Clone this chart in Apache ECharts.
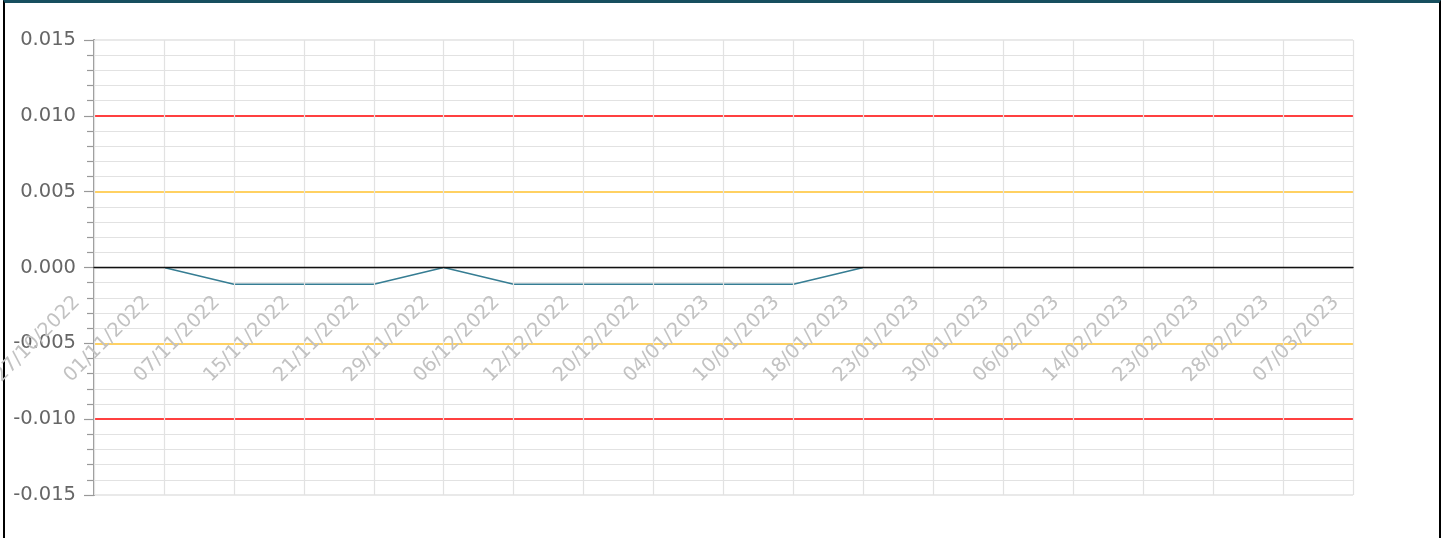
<!DOCTYPE html>
<html>
<head>
<meta charset="utf-8">
<script src="https://cdn.jsdelivr.net/npm/echarts@6/dist/echarts.min.js"></script>
<style>
html,body{margin:0;padding:0;background:#fff;overflow:hidden;}
#frame{position:absolute;left:3px;top:0;width:1434px;height:600px;border-left:2px solid #000;border-right:2px solid #000;border-top:3px solid #174f5f;box-sizing:content-box;}
#chart{position:absolute;left:0;top:0;width:1448px;height:538px;}
</style>
</head>
<body>
<div id="frame"></div>
<div id="chart"></div>
<script>
const categories = ['27/10/2022','01/11/2022','07/11/2022','15/11/2022','21/11/2022','29/11/2022','06/12/2022','12/12/2022','20/12/2022','04/01/2023','10/01/2023','18/01/2023','23/01/2023','30/01/2023','06/02/2023','14/02/2023','23/02/2023','28/02/2023','07/03/2023'];
const values = [null, 0, -0.0011, -0.0011, -0.0011, 0, -0.0011, -0.0011, -0.0011, -0.0011, -0.0011, 0, null, null, null, null, null, null, null];
const yTicks = [-0.015, -0.010, -0.005, 0, 0.005, 0.010, 0.015];
const yTickLineColors = ['#e2e2e2', '#ff0000', '#ffc22e', '#e2e2e2', '#ffc22e', '#ff0000', '#e2e2e2'];
const yMin = -0.015, yMax = 0.015, yStep = 0.005;

const W = 1448, H = 538;
const gridTop = 40, gridBottom = 43;
const gridH = H - gridTop - gridBottom;
const zeroOffset = -gridH * (0 - yMin) / (yMax - yMin);

const chart = echarts.init(document.getElementById('chart'), null, {renderer: 'canvas'});
const font = 'DejaVu Sans';

chart.setOption({
  animation: false,
  grid: {left: 94, right: 95, top: gridTop, bottom: gridBottom, containLabel: false, outerBoundsMode: 'none'},
  xAxis: {
    type: 'category',
    data: categories,
    boundaryGap: false,
    position: 'bottom',
    offset: zeroOffset,
    axisLine: {show: true, onZero: false, lineStyle: {color: '#111', width: 1.3}},
    axisTick: {show: false},
    splitLine: {show: true, lineStyle: {color: '#e2e2e2', width: 1.2}},
    axisLabel: {
      interval: 0, rotate: 45, margin: 15, padding: [0, 24, 0, 0],
      color: '#c2c2c2', fontSize: 19.5, fontFamily: font, hideOverlap: false
    },
    z: 5
  },
  yAxis: {
    type: 'value',
    min: yMin, max: yMax, interval: yStep,
    axisLine: {show: true, lineStyle: {color: '#999', width: 2}},
    axisTick: {show: true, length: 10, lineStyle: {color: '#999', width: 1.2}},
    minorTick: {show: true, splitNumber: 5, length: 7, lineStyle: {color: '#999', width: 1.2}},
    splitLine: {show: true, lineStyle: {color: yTickLineColors, width: 1.6}},
    minorSplitLine: {show: true, lineStyle: {color: '#e2e2e2', width: 1.2}},
    axisLabel: {
      margin: 18, color: '#666', fontSize: 19.5, fontFamily: font,
      formatter: v => (Math.abs(v) < 1e-12 ? 0 : v).toFixed(3)
    }
  },
  series: [{
    type: 'line',
    data: values,
    showSymbol: false,
    symbol: 'none',
    connectNulls: false,
    lineStyle: {color: '#367d93', width: 1.6},
    z: 4
  }]
});
</script>
</body>
</html>
